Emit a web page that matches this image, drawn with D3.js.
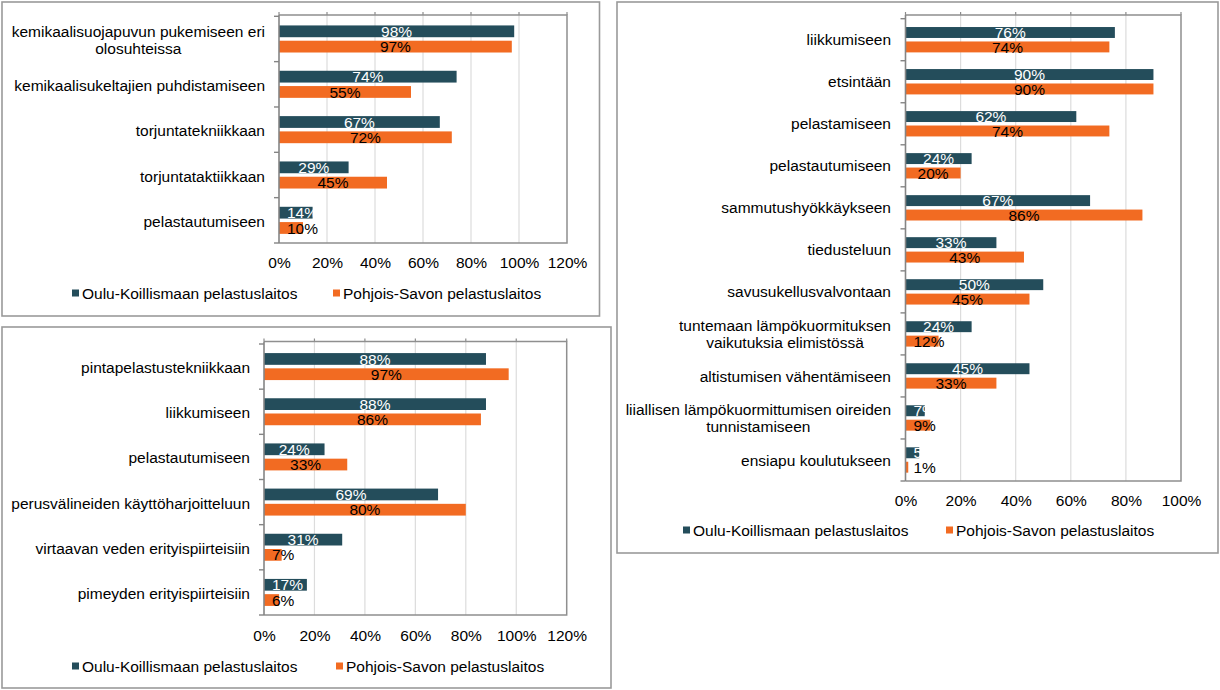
<!DOCTYPE html>
<html>
<head>
<meta charset="utf-8">
<script src="https://cdn.jsdelivr.net/npm/d3@7"></script>
<style>
  html, body { margin: 0; padding: 0; background: #fff; }
  svg { display: block; font-family: "Liberation Sans", Arial, sans-serif; }
</style>
</head>
<body>
<svg id="chart" width="1220" height="690"></svg>
<script>
// ---------- DATA ----------
const seriesNames = ["Oulu-Koillismaan pelastuslaitos", "Pohjois-Savon pelastuslaitos"];

// Panel A (top-left)
const catsA = [
  "kemikaalisuojapuvun pukemiseen eri\nolosuhteissa",
  "kemikaalisukeltajien puhdistamiseen",
  "torjuntatekniikkaan",
  "torjuntataktiikkaan",
  "pelastautumiseen"
];
const ouluA = [98, 74, 67, 29, 14];
const savoA = [97, 55, 72, 45, 10];
const ticksA = [0, 20, 40, 60, 80, 100, 120];

// Panel B (bottom-left)
const catsB = [
  "pintapelastustekniikkaan",
  "liikkumiseen",
  "pelastautumiseen",
  "perusvälineiden käyttöharjoitteluun",
  "virtaavan veden erityispiirteisiin",
  "pimeyden erityispiirteisiin"
];
const ouluB = [88, 88, 24, 69, 31, 17];
const savoB = [97, 86, 33, 80, 7, 6];
const ticksB = [0, 20, 40, 60, 80, 100, 120];

// Panel C (right)
const catsC = [
  "liikkumiseen",
  "etsintään",
  "pelastamiseen",
  "pelastautumiseen",
  "sammutushyökkäykseen",
  "tiedusteluun",
  "savusukellusvalvontaan",
  "tuntemaan lämpökuormituksen\nvaikutuksia elimistössä",
  "altistumisen vähentämiseen",
  "liiallisen lämpökuormittumisen oireiden\ntunnistamiseen",
  "ensiapu koulutukseen"
];
const ouluC = [76, 90, 62, 24, 67, 33, 50, 24, 45, 7, 5];
const savoC = [74, 90, 74, 20, 86, 43, 45, 12, 33, 9, 1];
const ticksC = [0, 20, 40, 60, 80, 100];

// ---------- STYLE ----------
const COL_OULU = "#244d5b";
const COL_SAVO = "#f26b22";
const FONT_SIZE = 15.5;

const svg = d3.select("#chart");

function drawPanel(cfg) {
  const g = svg.append("g");
  // outer box
  g.append("rect")
    .attr("x", cfg.box[0]).attr("y", cfg.box[1])
    .attr("width", cfg.box[2] - cfg.box[0]).attr("height", cfg.box[3] - cfg.box[1])
    .attr("fill", "#fff").attr("stroke", "#9a9a9a").attr("stroke-width", 1.6);

  const x = d3.scaleLinear().domain([0, d3.max(cfg.ticks)]).range([cfg.px0, cfg.px1]);
  const y = d3.scaleBand().domain(cfg.cats).range([cfg.bandTop, cfg.bandBottom]).padding(0);
  const bw = y.bandwidth();

  // gridlines
  g.append("g").selectAll("line").data(cfg.ticks.slice(1, -1)).join("line")
    .attr("x1", d => x(d)).attr("x2", d => x(d))
    .attr("y1", cfg.frameTop).attr("y2", cfg.bandBottom)
    .attr("stroke", "#dcdcdc").attr("stroke-width", 1.2);
  // top protruding ticks
  g.append("g").selectAll("line").data(cfg.ticks).join("line")
    .attr("x1", d => x(d)).attr("x2", d => x(d))
    .attr("y1", cfg.frameTop - 3).attr("y2", cfg.frameTop)
    .attr("stroke", "#8c8c8c").attr("stroke-width", 1.2);
  // frame (top, right, bottom)
  g.append("path")
    .attr("d", `M${x(0)},${cfg.frameTop}H${x(d3.max(cfg.ticks))}V${cfg.bandBottom}H${x(0)}`)
    .attr("fill", "none").attr("stroke", "#8f8f8f").attr("stroke-width", 1.5);

  // bars
  const h = bw * 0.26, gap = 3.5;
  const off = (bw - (2 * h + gap)) / 2;
  const rows = cfg.cats.map((c, i) => ({ c, a: cfg.oulu[i], b: cfg.savo[i] }));

  g.append("g").selectAll("rect").data(rows).join("rect")
    .attr("x", x(0)).attr("y", d => y(d.c) + off)
    .attr("width", d => x(d.a) - x(0)).attr("height", h)
    .attr("fill", COL_OULU);
  g.append("g").selectAll("rect").data(rows).join("rect")
    .attr("x", x(0)).attr("y", d => y(d.c) + off + h + gap)
    .attr("width", d => x(d.b) - x(0)).attr("height", h)
    .attr("fill", COL_SAVO);

  // left axis line + boundary ticks
  g.append("line")
    .attr("x1", x(0)).attr("x2", x(0)).attr("y1", cfg.frameTop).attr("y2", cfg.bandBottom)
    .attr("stroke", "#858585").attr("stroke-width", 1.6);
  const bounds = cfg.cats.map(c => y(c)).concat([cfg.bandBottom]);
  g.append("g").selectAll("line").data(bounds).join("line")
    .attr("x1", x(0) - 5).attr("x2", x(0))
    .attr("y1", d => d).attr("y2", d => d)
    .attr("stroke", "#858585").attr("stroke-width", 1.4);

  // value labels
  function valueLabels(key, yOff, color) {
    const t = g.append("g").selectAll("text").data(rows).join("text")
      .attr("font-size", FONT_SIZE)
      .attr("fill", color)
      .attr("text-anchor", "start")
      .attr("dy", "0.36em")
      .attr("y", d => y(d.c) + yOff + h / 2)
      .text(d => d[key] + "%");
    t.each(function (d) {
      const w = this.getComputedTextLength();
      const center = (x(0) + x(d[key])) / 2;
      const left = Math.max(center - w / 2, x(0) + 8);
      d3.select(this).attr("x", left);
    });
  }
  valueLabels("a", off, "#ffffff");
  valueLabels("b", off + h + gap, "#000000");

  // category labels
  const lh = 17;
  cfg.cats.forEach(c => {
    const lines = c.split("\n");
    const cy = y(c) + bw / 2 + cfg.catDy;
    const t = g.append("text")
      .attr("font-size", FONT_SIZE).attr("fill", "#000")
      .attr("text-anchor", "middle");
    lines.forEach((ln, i) => {
      t.append("tspan").attr("y", cy + (i - (lines.length - 1) / 2) * lh).attr("dy", "0.36em").text(ln);
    });
    // right-align the block, center lines within it
    const w = d3.max(t.selectAll("tspan").nodes(), n => n.getComputedTextLength());
    t.selectAll("tspan").attr("x", cfg.labelRight - w / 2);
  });

  // x-axis tick labels
  const ax = g.append("g")
    .attr("transform", `translate(0,${cfg.tickLabelY})`)
    .call(d3.axisBottom(x).tickValues(cfg.ticks).tickFormat(d => d + "%").tickSize(0).tickPadding(0));
  ax.select(".domain").remove();
  ax.selectAll("text")
    .attr("font-family", "Liberation Sans, Arial, sans-serif")
    .attr("font-size", FONT_SIZE).attr("fill", "#000")
    .attr("y", 0).attr("dy", "0.36em");

  // legend
  const leg = g.append("g");
  const legCols = [COL_OULU, COL_SAVO];
  seriesNames.forEach((name, i) => {
    leg.append("rect")
      .attr("x", cfg.legendX[i]).attr("y", cfg.legendY - 3.5)
      .attr("width", 7).attr("height", 7).attr("fill", legCols[i]);
    leg.append("text")
      .attr("x", cfg.legendX[i] + 10).attr("y", cfg.legendY).attr("dy", "0.36em")
      .attr("font-size", FONT_SIZE).attr("fill", "#000")
      .text(name);
  });
}

drawPanel({
  box: [2, 2, 599.5, 316],
  cats: catsA, oulu: ouluA, savo: savoA, ticks: ticksA,
  px0: 279, px1: 567, frameTop: 15, bandTop: 16.3, bandBottom: 243,
  labelRight: 265, catDy: 1, tickLabelY: 262,
  legendX: [72, 333], legendY: 293
});

drawPanel({
  box: [2, 327, 611, 688],
  cats: catsB, oulu: ouluB, savo: savoB, ticks: ticksB,
  px0: 264, px1: 566.7, frameTop: 341.5, bandTop: 344, bandBottom: 615,
  labelRight: 250, catDy: 1, tickLabelY: 635,
  legendX: [72, 336], legendY: 666
});

drawPanel({
  box: [617, 2, 1218, 553],
  cats: catsC, oulu: ouluC, savo: savoC, ticks: ticksC,
  px0: 905.5, px1: 1181, frameTop: 15, bandTop: 18.7, bandBottom: 481,
  labelRight: 891, catDy: 0, tickLabelY: 500,
  legendX: [683, 946], legendY: 530
});
</script>
</body>
</html>
